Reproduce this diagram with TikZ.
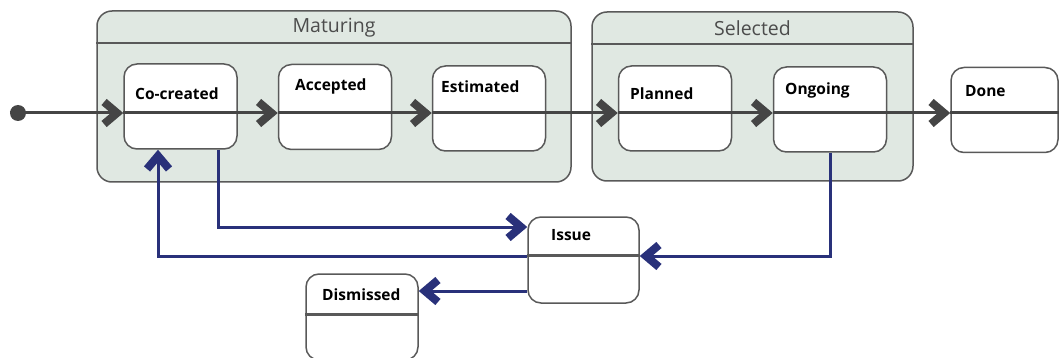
\documentclass[tikz,border=0pt]{standalone}
\usepackage{fontspec}
\setmainfont{Open Sans}
\usetikzlibrary{arrows.meta,positioning}
\definecolor{groupfill}{HTML}{E0E8E2}
\definecolor{edgegray}{HTML}{595959}
\definecolor{flowgray}{HTML}{454545}
\definecolor{flowblue}{HTML}{29317A}
\begin{document}
\begin{tikzpicture}[
    x=1pt, y=-1pt,
    groupnode/.style={draw=edgegray, line width=1.5pt, fill=groupfill, rounded corners=15pt, inner sep=0pt},
    statenode/.style={draw=edgegray, line width=1.5pt, fill=white, rounded corners=13pt, minimum width=113pt, minimum height=85pt, inner sep=0pt},
    titlenode/.style={font=\fontsize{19.5}{23}\selectfont, text=black!70},
    labelnode/.style={font=\fontsize{15.5}{18}\selectfont\bfseries, anchor=west, inner sep=0pt},
    mainflow/.style={line width=3pt, flowgray, -{Straight Barb[sharp, length=13pt, width=22pt, line width=8pt]}},
    issueflow/.style={line width=3pt, flowblue, -{Straight Barb[sharp, length=13pt, width=22pt, line width=8pt]}}
]
\useasboundingbox (0,0) rectangle (1059,358);

% Composite states
\node[groupnode, minimum width=474pt, minimum height=171pt] (maturing) at (334,96.5) {};
\node[groupnode, minimum width=321pt, minimum height=169pt] (selected) at (752.5,96.5) {};
\foreach \grp/\title in {maturing/Maturing, selected/Selected} {
    \draw[edgegray, line width=1.5pt] ([yshift=-33pt]\grp.north west) -- ([yshift=-33pt]\grp.north east);
    \node[titlenode] at ([yshift=-17pt]\grp.north) {\title};
}

% Simple states
\node[statenode] (cocreated) at (180.5,106.5) {};
\node[statenode] (accepted) at (335,107) {};
\node[statenode] (estimated) at (489,108.5) {};
\node[statenode] (planned) at (675,108.5) {};
\node[statenode] (ongoing) at (830,109.5) {};
\node[statenode, minimum width=107pt] (done) at (1004.5,110) {};
\node[statenode, minimum width=111pt, minimum height=86pt] (issue) at (583.5,260) {};
\node[statenode, minimum width=112pt, minimum height=86pt] (dismissed) at (362,317) {};

% State names
\node[labelnode] at (135,94) {Co-created};
\node[labelnode] at (295,86) {Accepted};
\node[labelnode] at (441,87) {Estimated};
\node[labelnode] at (630,94) {Planned};
\node[labelnode] at (785,90) {Ongoing};
\node[labelnode] at (965,91) {Done};
\node[labelnode] at (551,235) {Issue};
\node[labelnode] at (322,295) {Dismissed};

% Compartment lines
\draw[edgegray, line width=2.5pt] ([yshift=-39pt]issue.north west) -- ([yshift=-39pt]issue.north east);
\draw[edgegray, line width=2.5pt] ([yshift=-41pt]dismissed.north west) -- ([yshift=-41pt]dismissed.north east);

% Main flow
\node[circle, fill=flowgray, minimum size=16pt, inner sep=0pt] (start) at (18,113) {};
\coordinate (finish) at (1059,113);
\foreach \from/\to in {start/cocreated, cocreated/accepted, accepted/estimated, estimated/planned, planned/ongoing, ongoing/done}
    \draw[mainflow] (\from.west |- start) -- (\to.west |- start);
\draw[line width=3pt, flowgray] (done.west |- start) -- (finish);

% Issue flows
\coordinate (toss) at ([yshift=-31pt]issue.west);
\draw[issueflow] ([xshift=38pt]cocreated.south) |- ([yshift=33pt]issue.west);
\draw[issueflow] (ongoing.south) |- ([yshift=4pt]issue.east);
\draw[issueflow] ([yshift=4pt]issue.west) -| ([xshift=-22.5pt]cocreated.south);
\draw[issueflow] (toss) -- (toss -| dismissed.east);

\end{tikzpicture}
\end{document}
